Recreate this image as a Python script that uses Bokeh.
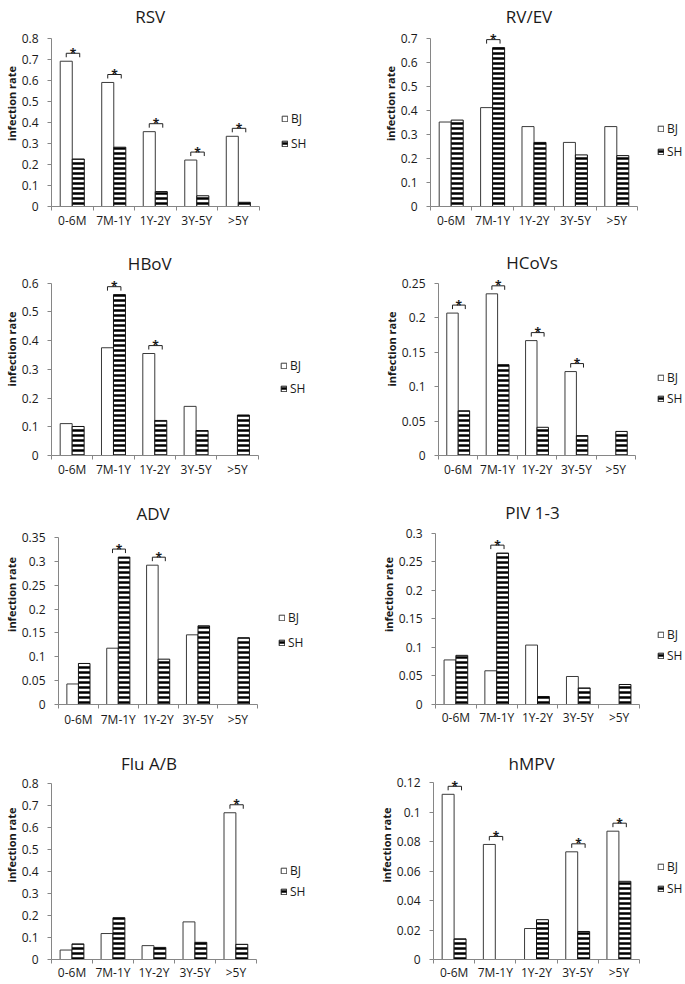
from bokeh.plotting import figure
from bokeh.layouts import column, row
from bokeh.models import Range1d, FixedTicker, ColumnDataSource, Legend, LegendItem, Label
from bokeh.transform import dodge
from bokeh.core.properties import value
from bokeh.embed import file_html
from bokeh.resources import INLINE

# ---------------- data ----------------
categories = ["0-6M", "7M-1Y", "1Y-2Y", "3Y-5Y", ">5Y"]
series_names = ["BJ", "SH"]
y_label = "infection rate"

rsv_bj = [0.691, 0.590, 0.356, 0.221, 0.334]
rsv_sh = [0.226, 0.282, 0.071, 0.051, 0.020]
rsv_sig = [1, 1, 1, 1, 1]
rsv_yticks = [0, 0.1, 0.2, 0.3, 0.4, 0.5, 0.6, 0.7, 0.8]

rvev_bj = [0.352, 0.412, 0.333, 0.267, 0.333]
rvev_sh = [0.360, 0.662, 0.267, 0.215, 0.212]
rvev_sig = [0, 1, 0, 0, 0]
rvev_yticks = [0, 0.1, 0.2, 0.3, 0.4, 0.5, 0.6, 0.7]

hbov_bj = [0.111, 0.375, 0.355, 0.171, 0.0]
hbov_sh = [0.101, 0.560, 0.122, 0.087, 0.141]
hbov_sig = [0, 1, 1, 0, 0]
hbov_yticks = [0, 0.1, 0.2, 0.3, 0.4, 0.5, 0.6]

hcov_bj = [0.207, 0.235, 0.167, 0.122, 0.0]
hcov_sh = [0.065, 0.132, 0.041, 0.029, 0.035]
hcov_sig = [1, 1, 1, 1, 0]
hcov_yticks = [0, 0.05, 0.1, 0.15, 0.2, 0.25]

adv_bj = [0.043, 0.118, 0.292, 0.146, 0.0]
adv_sh = [0.086, 0.309, 0.095, 0.165, 0.140]
adv_sig = [0, 1, 1, 0, 0]
adv_yticks = [0, 0.05, 0.1, 0.15, 0.2, 0.25, 0.3, 0.35]

piv_bj = [0.078, 0.059, 0.104, 0.049, 0.0]
piv_sh = [0.086, 0.265, 0.014, 0.029, 0.035]
piv_sig = [0, 1, 0, 0, 0]
piv_yticks = [0, 0.05, 0.1, 0.15, 0.2, 0.25, 0.3]

flu_bj = [0.043, 0.118, 0.063, 0.171, 0.667]
flu_sh = [0.071, 0.190, 0.055, 0.078, 0.069]
flu_sig = [0, 0, 0, 0, 1]
flu_yticks = [0, 0.1, 0.2, 0.3, 0.4, 0.5, 0.6, 0.7, 0.8]

hmpv_bj = [0.112, 0.078, 0.021, 0.073, 0.087]
hmpv_sh = [0.014, 0.0, 0.027, 0.019, 0.053]
hmpv_sig = [1, 1, 0, 1, 1]
hmpv_yticks = [0, 0.02, 0.04, 0.06, 0.08, 0.1, 0.12]

# ---------------- style / layout ----------------
FONT = "Open Sans"
AXIS_GRAY = "#868686"
BAR_EDGE = "#3a3a3a"
TEXT = "#1a1a1a"
ITEM_H = 17


def panel(title, bj, sh, sig, yticks, geo):
    # geo: page-pixel layout of this panel
    fl, ft, w, h = geo["fig"]
    al, ar, at, ab = geo["axes"]
    n = len(categories)
    ymax = yticks[-1]
    cat_px = (ar - al) / n
    px_per_y = (ab - at) / ymax
    mbl = al - fl
    mbb = ft + h - ab
    x_end = (fl + w - al) / cat_px
    y_end = (ab - ft) / px_per_y

    centers = [i + 0.5 for i in range(n)]
    src = ColumnDataSource(dict(xc=centers, bj=bj, sh=sh, cat=categories))

    p = figure(width=w, height=h, x_range=Range1d(0, x_end), y_range=Range1d(0, y_end),
               output_backend="svg", toolbar_location=None,
               min_border_left=mbl, min_border_right=0,
               min_border_top=0, min_border_bottom=mbb)
    p.xgrid.visible = False
    p.ygrid.visible = False
    p.outline_line_color = None

    # title, centred over the category axis
    p.add_layout(Label(x=n / 2, y=(ab - geo["title_base"]) / px_per_y, text=title,
                       x_offset=-5, text_align="center", text_baseline="alphabetic",
                       text_font=FONT, text_font_size="17px", text_color=TEXT))

    r_bj = p.vbar(x=dodge("xc", -0.145, range=p.x_range), top="bj", width=0.29,
                  source=src, fill_color="white", line_color=BAR_EDGE, line_width=1)
    r_sh = p.vbar(x=dodge("xc", 0.145, range=p.x_range), top="sh", width=0.29,
                  source=src, fill_color="white", line_color="#111111", line_width=1,
                  hatch_pattern="horizontal_line", hatch_color="black",
                  hatch_weight=2.5, hatch_scale=5)

    # significance brackets
    idx = [i for i, s in enumerate(sig) if s]
    if idx:
        tops = [max(bj[i], sh[i]) for i in idx]
        lo = [t + 4 / px_per_y for t in tops]
        hi = [t + 8 / px_per_y for t in tops]
        x0 = [centers[i] - 0.145 for i in idx]
        x1 = [centers[i] + 0.18 for i in idx]
        p.multi_line(xs=[[a, a, b, b] for a, b in zip(x0, x1)],
                     ys=[[l, u, u, l] for l, u in zip(lo, hi)],
                     line_color="#222222", line_width=1)
        p.text(x=[(a + b) / 2 for a, b in zip(x0, x1)], y=hi, text=["*"] * len(idx),
               text_align="center", text_baseline="alphabetic",
               text_font=value(FONT), text_font_style="bold",
               text_font_size="12px", text_color=TEXT)

    xa = p.xaxis[0]
    xa.axis_label = None
    xa.axis_label_standoff = 0
    xa.bounds = (0, n)
    xa.ticker = FixedTicker(ticks=centers, minor_ticks=list(range(n + 1)))
    xa.major_label_overrides = {c: cat for c, cat in zip(centers, categories)}
    xa.major_tick_out = 0
    xa.major_tick_in = 0
    xa.minor_tick_out = 4
    xa.minor_tick_in = 0
    xa.axis_line_color = AXIS_GRAY
    xa.minor_tick_line_color = AXIS_GRAY
    xa.major_label_text_font = FONT
    xa.major_label_text_font_size = "12px"
    xa.major_label_text_color = TEXT
    xa.major_label_standoff = geo["xstand"]

    ya = p.yaxis[0]
    ya.bounds = (0, ymax)
    ya.ticker = FixedTicker(ticks=yticks, minor_ticks=[])
    ya.major_label_overrides = {t: f"{t:g}" for t in yticks}
    ya.major_tick_out = 4
    ya.major_tick_in = 0
    ya.minor_tick_out = 0
    ya.axis_line_color = AXIS_GRAY
    ya.major_tick_line_color = AXIS_GRAY
    ya.major_label_text_font = FONT
    ya.major_label_text_font_size = "12px"
    ya.major_label_text_color = TEXT
    ya.major_label_standoff = 9
    ya.axis_label = y_label
    ya.axis_label_text_font = FONT
    ya.axis_label_text_font_size = "11px"
    ya.axis_label_text_font_style = "bold"
    ya.axis_label_text_color = TEXT
    ya.axis_label_standoff = 0

    lx, bj_c, sh_c = geo["legend"]
    legend = Legend(items=[LegendItem(label=series_names[0], renderers=[r_bj]),
                           LegendItem(label=series_names[1], renderers=[r_sh])],
                    location=(lx - al, ab - sh_c - ITEM_H / 2), orientation="vertical",
                    glyph_width=7, glyph_height=7, label_height=ITEM_H,
                    label_standoff=3, padding=0, spacing=int(sh_c - bj_c - ITEM_H),
                    margin=0, border_line_color=None, background_fill_alpha=0,
                    label_text_font=FONT, label_text_font_size="12px",
                    label_text_color=TEXT)
    p.add_layout(legend)
    return p


G = {
    "RSV":   dict(fig=(0, 0, 340, 242), axes=(49, 258, 38, 207), title_base=16, xstand=1, legend=(279, 119, 144)),
    "RVEV":  dict(fig=(340, 0, 344, 242), axes=(430, 637, 38, 206), title_base=16, xstand=1, legend=(657, 128, 151)),
    "HBOV":  dict(fig=(0, 242, 340, 242), axes=(49, 257, 283, 457), title_base=263, xstand=1, legend=(278, 367, 390)),
    "HCOV":  dict(fig=(340, 242, 344, 242), axes=(438, 635, 283, 455), title_base=262, xstand=1, legend=(657, 377, 398)),
    "ADV":   dict(fig=(0, 484, 340, 246), axes=(57, 257, 537, 704), title_base=513, xstand=2, legend=(277, 617, 642)),
    "PIV":   dict(fig=(340, 484, 344, 246), axes=(435, 639, 533, 706), title_base=512, xstand=0, legend=(657, 636, 657)),
    "FLU":   dict(fig=(0, 730, 340, 253), axes=(48, 255, 783, 959), title_base=763, xstand=0, legend=(277, 870, 891)),
    "HMPV":  dict(fig=(340, 730, 344, 253), axes=(433, 639, 782, 959), title_base=763, xstand=0, legend=(657, 866, 888)),
}

p1 = panel("RSV", rsv_bj, rsv_sh, rsv_sig, rsv_yticks, G["RSV"])
p2 = panel("RV/EV", rvev_bj, rvev_sh, rvev_sig, rvev_yticks, G["RVEV"])
p3 = panel("HBoV", hbov_bj, hbov_sh, hbov_sig, hbov_yticks, G["HBOV"])
p4 = panel("HCoVs", hcov_bj, hcov_sh, hcov_sig, hcov_yticks, G["HCOV"])
p5 = panel("ADV", adv_bj, adv_sh, adv_sig, adv_yticks, G["ADV"])
p6 = panel("PIV 1-3", piv_bj, piv_sh, piv_sig, piv_yticks, G["PIV"])
p7 = panel("Flu A/B", flu_bj, flu_sh, flu_sig, flu_yticks, G["FLU"])
p8 = panel("hMPV", hmpv_bj, hmpv_sh, hmpv_sig, hmpv_yticks, G["HMPV"])

layout = column(row(p1, p2), row(p3, p4), row(p5, p6), row(p7, p8))

open("out.html", "w").write(file_html(layout, INLINE))
